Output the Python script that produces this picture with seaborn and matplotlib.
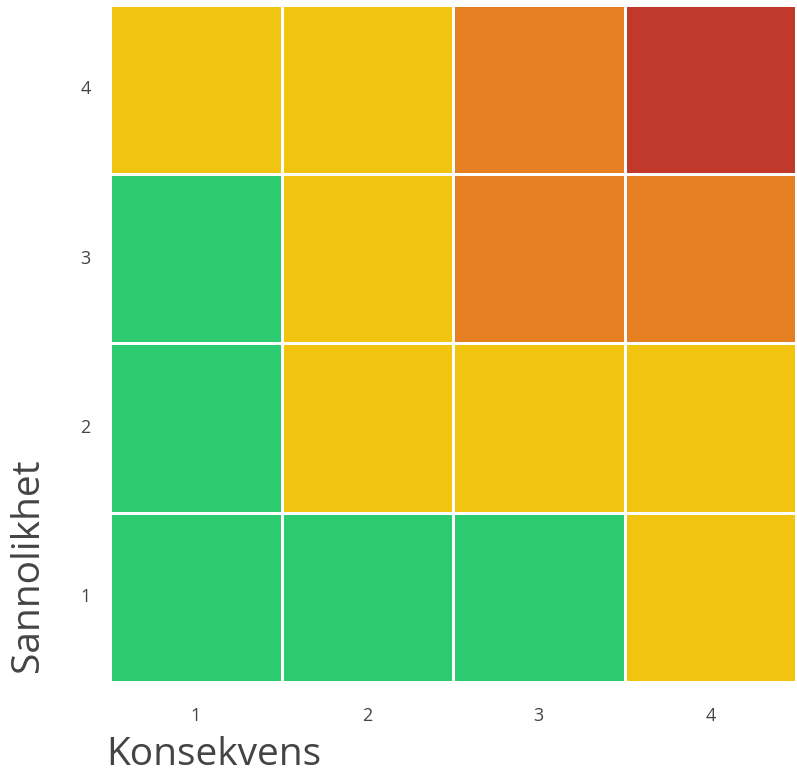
import numpy as np
import pandas as pd
import matplotlib
matplotlib.use('Agg')
import matplotlib.pyplot as plt
from matplotlib.colors import ListedColormap
import seaborn as sns

sns.set_style('white')
plt.rcParams['font.family'] = ['Open Sans', 'DejaVu Sans']

konsekvens = [1, 2, 3, 4]
sannolikhet = [4, 3, 2, 1]
# risk level per cell, rows from top (sannolikhet 4) to bottom (1)
risk = [[1, 1, 2, 3],
        [0, 1, 2, 2],
        [0, 1, 1, 1],
        [0, 0, 0, 1]]
risk_colors = ['#2ECC71', '#F1C40F', '#E67E22', '#C0392B']

df = pd.DataFrame(risk, index=sannolikhet, columns=konsekvens)

fig = plt.figure(figsize=(7.97, 7.75), dpi=100)
ax = fig.add_axes([0.138, 0.12, 0.861, 0.874])
sns.heatmap(df, cmap=ListedColormap(risk_colors), vmin=-0.5, vmax=3.5,
            cbar=False, linewidths=2, linecolor='white', square=False, ax=ax)

ax.tick_params(axis='x', length=0, labelsize=13, colors='#444444', pad=18)
ax.tick_params(axis='y', length=0, labelsize=13, colors='#444444', pad=14)
ax.set_yticklabels(ax.get_yticklabels(), rotation=0)
ax.set_xlabel('Konsekvens', fontsize=28, color='#444444', loc='left')
ax.set_ylabel('Sannolikhet', fontsize=28, color='#444444', loc='bottom')
ax.yaxis.set_label_coords(-0.092, 0.015)
ax.xaxis.set_label_coords(-0.005, -0.08)

fig.savefig('out.png', dpi=100)
